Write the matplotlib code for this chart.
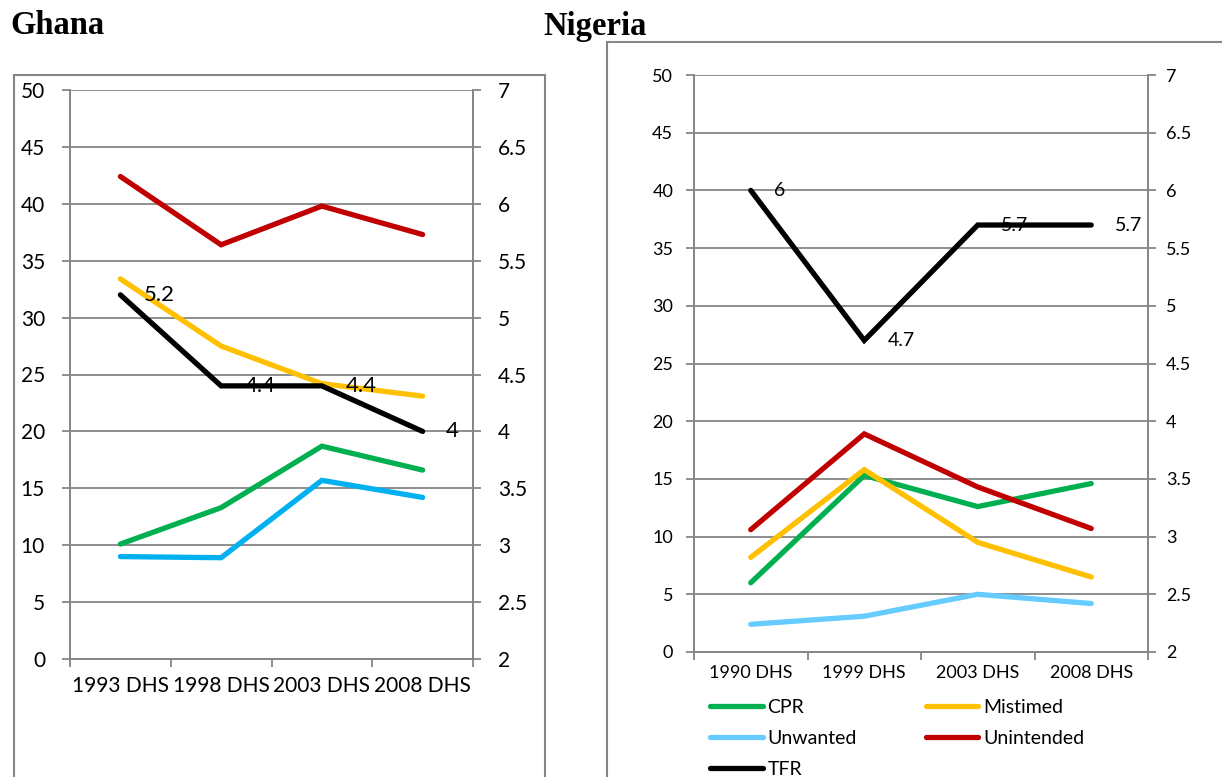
import matplotlib.pyplot as plt
from matplotlib.patches import Rectangle

plt.rcParams['font.family'] = ['Lato', 'DejaVu Sans']

# ---------- data ----------
ghana_surveys = ['1993 DHS', '1998 DHS', '2003 DHS', '2008 DHS']
ghana_cpr = [10.1, 13.3, 18.7, 16.6]
ghana_mistimed = [33.4, 27.5, 24.2, 23.1]
ghana_unwanted = [9.0, 8.9, 15.7, 14.2]
ghana_unintended = [42.4, 36.4, 39.8, 37.3]
ghana_tfr = [5.2, 4.4, 4.4, 4.0]

nigeria_surveys = ['1990 DHS', '1999 DHS', '2003 DHS', '2008 DHS']
nigeria_cpr = [6.0, 15.3, 12.6, 14.6]
nigeria_mistimed = [8.2, 15.8, 9.5, 6.5]
nigeria_unwanted = [2.4, 3.1, 5.0, 4.2]
nigeria_unintended = [10.6, 18.9, 14.3, 10.7]
nigeria_tfr = [6.0, 4.7, 5.7, 5.7]

GRID = '#868686'
GREEN = '#00B050'
YELLOW = '#FFC000'
RED = '#C00000'
LW = 3.8

fig = plt.figure(figsize=(12.22, 7.77), dpi=100)

# chart frames and titles
fig.patches.append(Rectangle((14 / 1222, -0.05), (545 - 14) / 1222, 1.05 - 75 / 777,
                             transform=fig.transFigure, fill=False, edgecolor=GRID, lw=1.5))
fig.patches.append(Rectangle((607 / 1222, -0.05), 0.6, 1.05 - 42 / 777,
                             transform=fig.transFigure, fill=False, edgecolor=GRID, lw=1.5))
fig.text(10 / 1222, 1 - 26 / 777, 'Ghana', family='Liberation Serif', weight='bold',
         fontsize=23.5, va='center', ha='left')
fig.text(543 / 1222, 1 - 26 / 777, 'Nigeria', family='Liberation Serif', weight='bold',
         fontsize=23.5, va='center', ha='left')


def draw_panel(rect, surveys, cpr, mistimed, unwanted, unintended, tfr,
               unwanted_color, fs, lpad, rpad, xpad):
    ax = fig.add_axes(rect)
    ax2 = ax.twinx()
    x = [i + 0.5 for i in range(len(surveys))]

    ax.set_xlim(0, 4)
    ax.set_ylim(0, 50)
    ax.set_yticks(range(0, 51, 5))
    ax.yaxis.grid(True, color=GRID, lw=1.3)
    ax.set_axisbelow(True)
    ax2.set_ylim(2, 7)
    ax2.set_yticks([2 + 0.5 * i for i in range(11)])
    ax2.set_yticklabels(['%g' % (2 + 0.5 * i) for i in range(11)])

    ax.set_xticks(range(5))
    ax.set_xticklabels([])
    ax.set_xticks(x, minor=True)
    ax.set_xticklabels(surveys, minor=True, fontsize=fs)
    ax.tick_params(axis='x', which='major', length=6, width=1.3, color=GRID)
    ax.tick_params(axis='x', which='minor', length=0, pad=xpad)
    ax.tick_params(axis='y', length=6, width=1.3, color=GRID, labelsize=fs, pad=lpad)
    ax2.tick_params(axis='y', length=6, width=1.3, color=GRID, labelsize=fs, pad=rpad)

    for a in (ax, ax2):
        a.spines['top'].set_visible(False)
        for side in ('left', 'right', 'bottom'):
            a.spines[side].set_color(GRID)
            a.spines[side].set_linewidth(1.3)

    kw = dict(lw=LW, solid_capstyle='round', solid_joinstyle='miter')
    h_cpr, = ax.plot(x, cpr, color=GREEN, label='CPR', **kw)
    h_mis, = ax.plot(x, mistimed, color=YELLOW, label='Mistimed', **kw)
    h_unw, = ax.plot(x, unwanted, color=unwanted_color, label='Unwanted', **kw)
    h_uni, = ax.plot(x, unintended, color=RED, label='Unintended', **kw)
    h_tfr, = ax2.plot(x, tfr, color='black', label='TFR', **kw)
    for xi, v in zip(x, tfr):
        ax2.annotate('%g' % v, (xi, v), xytext=(17, 0), textcoords='offset points',
                     va='center', ha='left', fontsize=fs + 1)
    return ax, [h_cpr, h_unw, h_tfr, h_mis, h_uni]


draw_panel([70 / 1222, 1 - 659 / 777, 403 / 1222, 569 / 777],
           ghana_surveys, ghana_cpr, ghana_mistimed, ghana_unwanted,
           ghana_unintended, ghana_tfr, '#00B0F0', 15, 12, 12, 12)

ax_n, handles = draw_panel([694 / 1222, 1 - 652 / 777, 454 / 1222, 577 / 777],
                           nigeria_surveys, nigeria_cpr, nigeria_mistimed,
                           nigeria_unwanted, nigeria_unintended, nigeria_tfr,
                           '#66CCFF', 13, 9, 7, 9)

fig.legend(handles=handles, loc='upper left', ncol=2, frameon=False, fontsize=14,
           bbox_to_anchor=(710 / 1222, 1 - 699 / 777), handlelength=2.7,
           handletextpad=0.25, columnspacing=3.55, labelspacing=0.72, borderaxespad=0,
           borderpad=0)

fig.savefig('out.png', dpi=100)
